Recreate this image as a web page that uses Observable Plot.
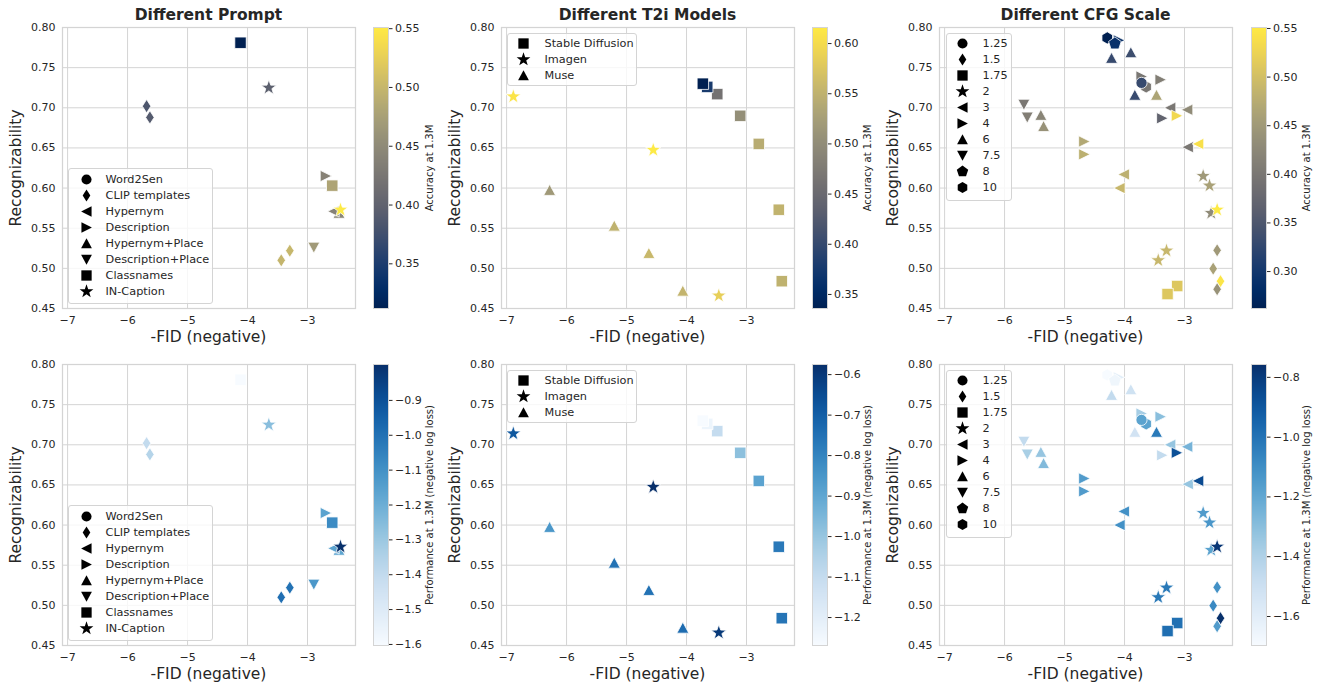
<!DOCTYPE html>
<html><head><meta charset="utf-8">
<script src="https://cdn.jsdelivr.net/npm/d3@7"></script>
<script src="https://cdn.jsdelivr.net/npm/@observablehq/plot@0.6"></script>
<style>
body{margin:0;background:#fff;font-family:"DejaVu Sans",sans-serif;}
#root{position:relative;width:1320px;height:684px;overflow:hidden;background:#fff;}
#root svg{position:absolute;overflow:visible;}
.lbl{position:absolute;color:#262626;white-space:nowrap;font-family:"DejaVu Sans",sans-serif;line-height:1;}
</style></head><body><div id="root"></div>
<script>
// ---------- shared axes ----------
const xTicks = [-7, -6, -5, -4, -3];
const yTicks = [0.45, 0.50, 0.55, 0.60, 0.65, 0.70, 0.75, 0.80];
const xDomain = [-7.085, -2.2];
const yDomain = [0.45, 0.80];

// ---------- panel 1: Different Prompt ----------
const promptLabels = ["Word2Sen", "CLIP templates", "Hypernym", "Description", "Hypernym+Place", "Description+Place", "Classnames", "IN-Caption"];
const p1X = [-4.117, -3.645, -5.683, -5.628, -2.695, -2.588, -2.475, -2.565, -2.895, -3.295, -3.438, -2.45];
const p1Y = [0.781, 0.725, 0.702, 0.688, 0.615, 0.603, 0.569, 0.571, 0.526, 0.522, 0.510, 0.573];
const p1Marker = ["Classnames", "IN-Caption", "CLIP templates", "CLIP templates", "Description", "Classnames", "Hypernym+Place", "Hypernym", "Description+Place", "CLIP templates", "CLIP templates", "IN-Caption"];
const p1Acc = [0.312, 0.396, 0.384, 0.390, 0.440, 0.480, 0.445, 0.440, 0.468, 0.500, 0.498, 0.551];
const p1Perf = [-1.603, -1.26, -1.40, -1.36, -1.16, -1.08, -1.17, -1.16, -1.12, -1.00, -0.99, -0.797];

// ---------- panel 2: Different T2i Models ----------
const t2iLabels = ["Stable Diffusion", "Imagen", "Muse"];
const p2X = [-6.888, -6.283, -5.205, -4.628, -4.062, -4.555, -3.462, -3.488, -3.655, -3.728, -3.105, -2.795, -2.462, -2.412];
const p2Y = [0.714, 0.5975, 0.553, 0.519, 0.472, 0.6475, 0.466, 0.717, 0.726, 0.730, 0.690, 0.655, 0.573, 0.484];
const p2Marker = ["Imagen", "Muse", "Muse", "Muse", "Muse", "Imagen", "Imagen", "Stable Diffusion", "Stable Diffusion", "Stable Diffusion", "Stable Diffusion", "Stable Diffusion", "Stable Diffusion", "Stable Diffusion"];
const p2Acc = [0.610, 0.518, 0.550, 0.558, 0.553, 0.616, 0.585, 0.462, 0.378, 0.336, 0.504, 0.543, 0.552, 0.550];
const p2Perf = [-0.68, -0.853, -0.75, -0.75, -0.735, -0.575, -0.60, -1.10, -1.235, -1.269, -0.98, -0.888, -0.77, -0.76];

// ---------- panel 3: Different CFG Scale ----------
const cfgLabels = ["1.25", "1.5", "1.75", "2", "3", "4", "6", "7.5", "8", "10"];
const p3X = [-4.094, -4.288, -4.161, -4.217, -3.895, -3.717, -3.64, -3.717, -3.40, -3.828, -3.467, -3.238, -2.955, -3.372, -3.128, -2.945, -2.772, -5.678, -5.622, -5.395, -5.35, -4.672, -4.672, -4.011, -4.083, -2.689, -2.583, -2.555, -2.456, -3.300, -3.438, -3.122, -3.283, -2.456, -2.522, -2.400, -2.456];
const p3Y = [0.784, 0.787, 0.780, 0.762, 0.769, 0.739, 0.726, 0.731, 0.735, 0.716, 0.716, 0.700, 0.6975, 0.687, 0.690, 0.651, 0.655, 0.704, 0.688, 0.691, 0.677, 0.658, 0.642, 0.617, 0.600, 0.615, 0.603, 0.569, 0.573, 0.522, 0.510, 0.478, 0.468, 0.5225, 0.4996, 0.484, 0.474];
const p3Marker = ["4", "10", "8", "6", "6", "4", "10", "1.25", "4", "6", "6", "3", "3", "4", "4", "3", "3", "7.5", "7.5", "6", "6", "4", "4", "3", "3", "2", "2", "2", "2", "2", "2", "1.75", "1.75", "1.5", "1.5", "1.5", "1.5"];
const p3Acc = [0.300, 0.262, 0.290, 0.330, 0.335, 0.400, 0.400, 0.330, 0.410, 0.330, 0.464, 0.400, 0.430, 0.370, 0.530, 0.400, 0.540, 0.400, 0.410, 0.420, 0.440, 0.470, 0.480, 0.480, 0.490, 0.450, 0.460, 0.430, 0.551, 0.490, 0.490, 0.510, 0.510, 0.450, 0.460, 0.545, 0.440];
const p3Perf = [-1.60, -1.697, -1.66, -1.46, -1.51, -1.37, -1.18, -1.18, -1.30, -1.52, -1.02, -1.33, -1.25, -1.46, -0.87, -1.33, -0.85, -1.46, -1.38, -1.33, -1.28, -1.15, -1.15, -1.11, -1.11, -1.15, -1.13, -1.18, -0.78, -1.02, -1.02, -0.99, -0.98, -1.11, -1.08, -0.757, -1.15];

// ---------- colorbars ----------
const accDomains = [[0.312, 0.551], [0.336, 0.616], [0.262, 0.551]];
const perfDomains = [[-1.603, -0.797], [-1.269, -0.575], [-1.697, -0.757]];
const accTicks = [[0.35, 0.40, 0.45, 0.50, 0.55], [0.35, 0.40, 0.45, 0.50, 0.55, 0.60], [0.30, 0.35, 0.40, 0.45, 0.50, 0.55]];
const perfTicks = [[-1.6, -1.5, -1.4, -1.3, -1.2, -1.1, -1.0, -0.9], [-1.2, -1.1, -1.0, -0.9, -0.8, -0.7, -0.6], [-1.6, -1.4, -1.2, -1.0, -0.8]];
const titles = ["Different Prompt", "Different T2i Models", "Different CFG Scale"];
const accLabel = "Accuracy at 1.3M";
const perfLabel = "Performance at 1.3M (negative log loss)";
const xLabel = "-FID (negative)";
const yLabel = "Recognizability";

// ---------- marker shapes ----------
function polySym(pts) {
  return {draw(ctx, size) {
    const m = Math.sqrt(size);
    pts.forEach(([a, b], i) => i ? ctx.lineTo(a * m, b * m) : ctx.moveTo(a * m, b * m));
    ctx.closePath();
  }};
}
function ngon(n, r, rot) {
  const pts = [];
  for (let i = 0; i < n; i++) { const a = rot + 2 * Math.PI * i / n; pts.push([r * Math.cos(a), r * Math.sin(a)]); }
  return polySym(pts);
}
function starSym(ro, ri) {
  const pts = [];
  for (let i = 0; i < 10; i++) { const a = -Math.PI / 2 + Math.PI * i / 5; const r = i % 2 ? ri : ro; pts.push([r * Math.cos(a), r * Math.sin(a)]); }
  return polySym(pts);
}
const SYM = {
  circle: {draw(ctx, size) { const r = 0.42 * Math.sqrt(size); ctx.moveTo(r, 0); ctx.arc(0, 0, r, 0, 2 * Math.PI); ctx.closePath(); }},
  diamond: polySym([[0, -0.5], [0.32, 0], [0, 0.5], [-0.32, 0]]),
  square: polySym([[-0.43, -0.43], [0.43, -0.43], [0.43, 0.43], [-0.43, 0.43]]),
  star: starSym(0.6, 0.6 * 0.40),
  left: polySym([[-0.45, 0], [0.42, -0.43], [0.42, 0.43]]),
  right: polySym([[0.45, 0], [-0.42, -0.43], [-0.42, 0.43]]),
  up: polySym([[0, -0.43], [0.45, 0.40], [-0.45, 0.40]]),
  down: polySym([[0, 0.43], [0.45, -0.40], [-0.45, -0.40]]),
  pentagon: ngon(5, 0.5, -Math.PI / 2),
  hexagon: ngon(6, 0.46, -Math.PI / 2)
};
const promptSyms = [SYM.circle, SYM.diamond, SYM.left, SYM.right, SYM.up, SYM.down, SYM.square, SYM.star];
const t2iSyms = [SYM.square, SYM.star, SYM.up];
const cfgSyms = [SYM.circle, SYM.diamond, SYM.square, SYM.star, SYM.left, SYM.right, SYM.up, SYM.down, SYM.pentagon, SYM.hexagon];

// ---------- layout ----------
const root = document.getElementById("root");
const colLeft = [0, 439, 877];       // svg left of main plots (plot area starts +62)
const cbLeft = [373, 812, 1251];
const rowTop = [0, 337];
const SVG_H = 342, MT = 27, MB = 34;
const GRID = "#d4d4d4", INK = "#262626";
const legendBoxes = [
  {left: 68, top: 168, width: 143, mdx: 17, tdx: 36, pad: 9.7},
  {left: 507, top: 33, width: 128, mdx: 15, tdx: 36, pad: 9},
  {left: 946, top: 33, width: 64, mdx: 15, tdx: 35, pad: 9.3}
];
const STEP = 16.33;
const DATA_M = 13.3, LEG_M = 12;

function place(el, left, top) { el.style.left = left + "px"; el.style.top = top + "px"; root.appendChild(el); }
function label(text, cx, cy, size, rotate, bold) {
  const d = document.createElement("div");
  d.className = "lbl"; d.textContent = text;
  d.style.fontSize = size + "px";
  if (bold) d.style.fontWeight = "bold";
  d.style.transform = "translate(-50%,-50%)" + (rotate ? " rotate(-90deg)" : "");
  place(d, cx, cy);
}

const panels = [
  {X: p1X, Y: p1Y, M: p1Marker, acc: p1Acc, perf: p1Perf, labels: promptLabels, syms: promptSyms},
  {X: p2X, Y: p2Y, M: p2Marker, acc: p2Acc, perf: p2Perf, labels: t2iLabels, syms: t2iSyms},
  {X: p3X, Y: p3Y, M: p3Marker, acc: p3Acc, perf: p3Perf, labels: cfgLabels, syms: cfgSyms}
];

panels.forEach((p, col) => {
  [0, 1].forEach(row => {
    const C = row === 0 ? p.acc : p.perf;
    const scheme = row === 0 ? "cividis" : "blues";
    const cdom = row === 0 ? accDomains[col] : perfDomains[col];
    const cticks = row === 0 ? accTicks[col] : perfTicks[col];
    const data = p.X.map((x, i) => ({x, y: p.Y[i], m: p.M[i], c: C[i]}));
    const top = rowTop[row];

    const main = Plot.plot({
      width: 365, height: SVG_H, marginLeft: 62, marginRight: 10, marginTop: MT, marginBottom: MB,
      style: {background: "transparent", fontFamily: "DejaVu Sans, sans-serif", fontSize: "11px", color: INK},
      x: {domain: xDomain},
      y: {domain: yDomain},
      color: {type: "linear", scheme, domain: cdom},
      symbol: {domain: p.labels, range: p.syms},
      marks: [
        Plot.gridX(xTicks, {stroke: GRID, strokeOpacity: 1, strokeWidth: 1}),
        Plot.gridY(yTicks, {stroke: GRID, strokeOpacity: 1, strokeWidth: 1}),
        Plot.frame({stroke: GRID, strokeWidth: 1.25}),
        Plot.axisX(xTicks, {tickSize: 0, tickPadding: 8, tickFormat: d3.format("d"), label: null, fontSize: 11, fill: INK}),
        Plot.axisY(yTicks, {tickSize: 0, tickPadding: 7, tickFormat: d3.format(".2f"), label: null, fontSize: 11, fill: INK}),
        Plot.dot(data, {x: "x", y: "y", symbol: "m", fill: "c", r: DATA_M / Math.sqrt(Math.PI), stroke: "white", strokeWidth: 0.8})
      ]
    });
    place(main, colLeft[col], top);

    const cb = Plot.plot({
      width: 60, height: SVG_H, marginLeft: 0, marginRight: 45, marginTop: MT, marginBottom: MB,
      style: {background: "transparent", fontFamily: "DejaVu Sans, sans-serif", fontSize: "11px", color: INK},
      x: {domain: [0, 1], axis: null},
      y: {domain: cdom},
      color: {type: "linear", scheme, domain: cdom},
      marks: [
        Plot.raster({x1: 0, x2: 1, y1: cdom[0], y2: cdom[1], fill: (x, y) => y, imageRendering: "auto"}),
        Plot.frame({stroke: GRID, strokeWidth: 1}),
        Plot.axisY(cticks, {anchor: "right", tickSize: 3.5, tickPadding: 3, tickFormat: d3.format(row === 0 ? ".2f" : ".1f"), label: null, fontSize: 11, stroke: INK, fill: INK})
      ]
    });
    place(cb, cbLeft[col], top);

    const lb = legendBoxes[col];
    const n = p.labels.length;
    const lh = 2 * lb.pad + (n - 1) * STEP;
    const leg = Plot.plot({
      width: lb.width, height: lh, margin: 0,
      style: {background: "rgba(255,255,255,0.8)", border: "1px solid #d4d4d4", borderRadius: "3px", fontFamily: "DejaVu Sans, sans-serif", fontSize: "11px", color: INK},
      x: {domain: [0, 1], axis: null},
      y: {type: "point", padding: 0, align: 0, domain: p.labels, range: [lb.pad, lb.pad + (n - 1) * STEP], axis: null},
      symbol: {domain: p.labels, range: p.syms},
      marks: [
        Plot.dot(p.labels, {y: d => d, symbol: d => d, frameAnchor: "left", dx: lb.mdx, fill: "black", r: LEG_M / Math.sqrt(Math.PI)}),
        Plot.text(p.labels, {y: d => d, text: d => d, frameAnchor: "left", dx: lb.tdx, textAnchor: "start", fontSize: 11.3, fill: INK})
      ]
    });
    place(leg, lb.left, top + lb.top);

    const pcx = colLeft[col] + 62 + 146.5;
    const pcy = top + MT + 140.5;
    if (row === 0) label(titles[col], pcx, 16, 15.5, false, true);
    label(xLabel, pcx, top + 337.5, 15.5, false, false);
    label(yLabel, colLeft[col] + 17, pcy, 15.5, true, false);
    label(row === 0 ? accLabel : perfLabel, cbLeft[col] + 57 + (col === 0 ? 0 : -1), pcy, 10, true, false);
  });
});
</script></body></html>
